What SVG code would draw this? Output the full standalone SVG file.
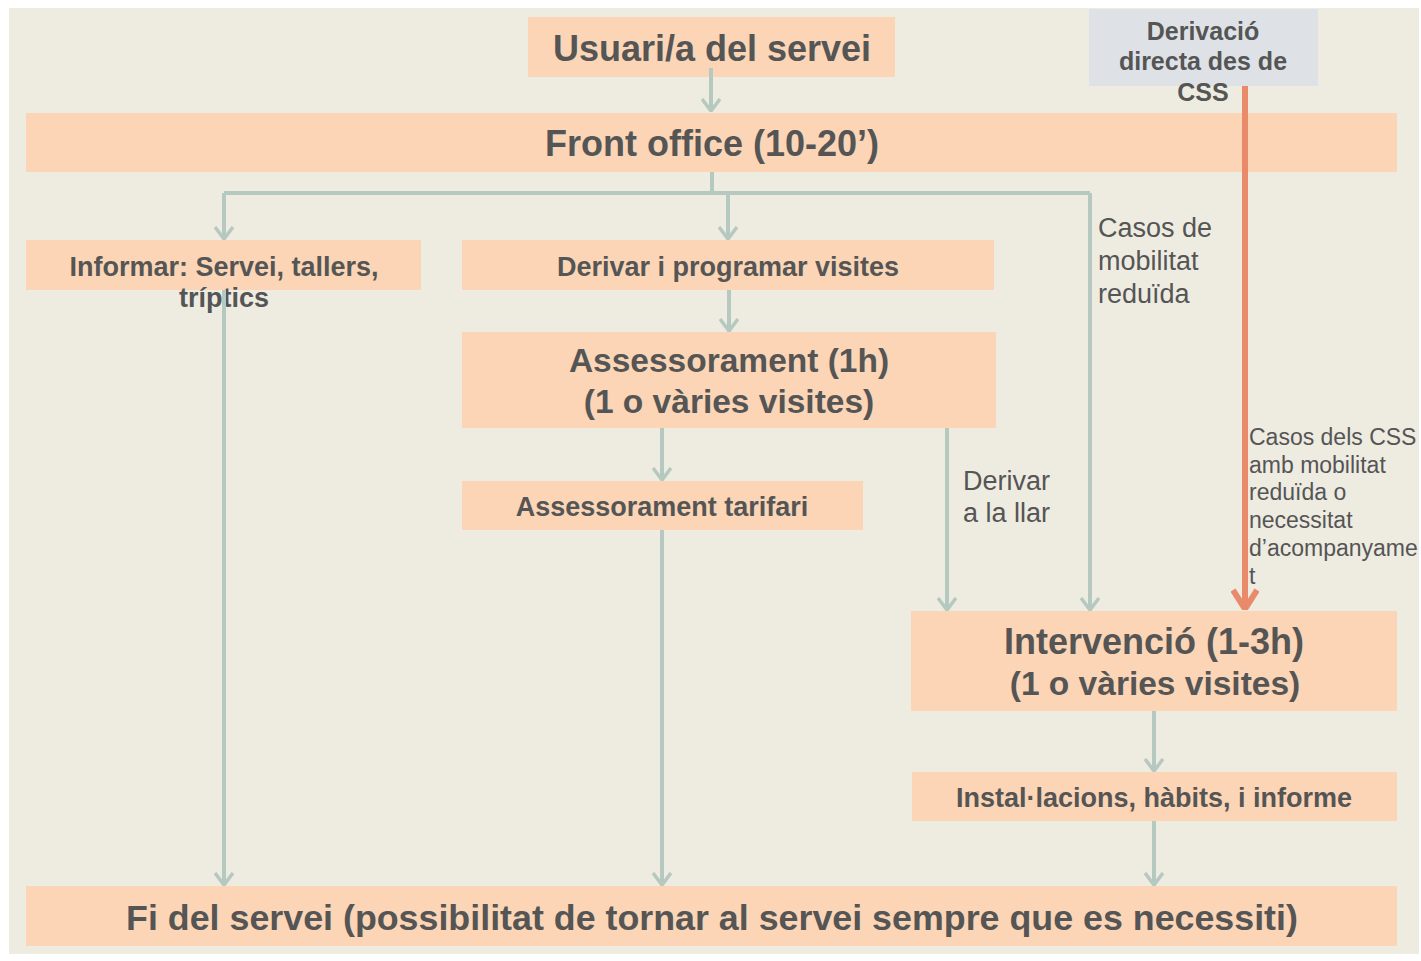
<svg xmlns="http://www.w3.org/2000/svg" width="1421" height="961" viewBox="0 0 1421 961">
<defs>
<style>
.box{fill:#FBD5B5}
.blue{fill:#DEE2E6}
.t{font-family:"Liberation Sans",Arial,sans-serif;fill:#555555;text-anchor:middle;font-weight:bold}
.lbl{font-family:"Liberation Sans",Arial,sans-serif;fill:#555555;font-size:27px}
.sm{font-family:"Liberation Sans",Arial,sans-serif;fill:#555555;font-size:23px}
.c{fill:none;stroke:#B5C9C1;stroke-width:4}
.r{fill:none;stroke:#E98A6B;stroke-width:6}
</style>
<marker id="a" viewBox="0 0 14 20" refX="13" refY="10" markerWidth="14" markerHeight="20" markerUnits="userSpaceOnUse" orient="auto">
<path d="M1,1 L13,10 L1,19" fill="none" stroke="#B5C9C1" stroke-width="3.5"/>
</marker>
<marker id="ar" viewBox="0 0 22 28" refX="21" refY="14" markerWidth="22" markerHeight="28" markerUnits="userSpaceOnUse" orient="auto">
<path d="M2,2 L21,14 L2,26" fill="none" stroke="#E98A6B" stroke-width="6"/>
</marker>
</defs>
<rect x="0" y="0" width="1421" height="961" fill="#FFFFFF"/>
<rect x="9" y="8" width="1410" height="946" fill="#EEEBE1"/>

<g id="usuari"><rect class="box" x="528" y="17" width="367" height="60"/><text class="t" x="712" y="61" font-size="36">Usuari/a del servei</text></g>
<g id="front"><rect class="box" x="26" y="113" width="1371" height="59"/><text class="t" x="712" y="156" font-size="36">Front office (10-20’)</text></g>
<g id="derivacio"><rect class="blue" x="1089" y="9" width="229" height="77"/><text class="t" x="1203" y="40" font-size="25">Derivació</text><text class="t" x="1203" y="70" font-size="25">directa des de</text><text class="t" x="1203" y="101" font-size="25">CSS</text></g>
<g id="informar"><rect class="box" x="26" y="240" width="395" height="50"/><text class="t" x="224" y="276" font-size="27">Informar: Servei, tallers,</text><text class="t" x="224" y="307" font-size="27">tríptics</text></g>
<g id="derivar"><rect class="box" x="462" y="240" width="532" height="50"/><text class="t" x="728" y="276" font-size="27">Derivar i programar visites</text></g>
<g id="assessorament"><rect class="box" x="462" y="332" width="534" height="96"/><text class="t" x="729" y="372" font-size="33.5">Assessorament (1h)</text><text class="t" x="729" y="413" font-size="33.5">(1 o vàries visites)</text></g>
<g id="tarifari"><rect class="box" x="462" y="481" width="401" height="49"/><text class="t" x="662" y="516" font-size="27">Assessorament tarifari</text></g>
<g id="intervencio"><rect class="box" x="911" y="611" width="486" height="100"/><text class="t" x="1154" y="654" font-size="36">Intervenció (1-3h)</text><text class="t" x="1155" y="695" font-size="33.5">(1 o vàries visites)</text></g>
<g id="installacions"><rect class="box" x="912" y="772" width="485" height="49"/><text class="t" x="1154" y="807" font-size="27">Instal·lacions, hàbits, i informe</text></g>
<g id="fi"><rect class="box" x="26" y="886" width="1371" height="60"/><text class="t" x="712" y="930" font-size="35.8">Fi del servei (possibilitat de tornar al servei sempre que es necessiti)</text></g>

<g id="connectors">
<path class="c" d="M711,68 V111" marker-end="url(#a)"/>
<path class="c" d="M712,172 V193"/>
<path class="c" d="M224,193 H1090"/>
<path class="c" d="M224,193 V239" marker-end="url(#a)"/>
<path class="c" d="M728,193 V239" marker-end="url(#a)"/>
<path class="c" d="M1090,193 V610" marker-end="url(#a)"/>
<path class="c" d="M729,290 V331" marker-end="url(#a)"/>
<path class="c" d="M224,290 V885" marker-end="url(#a)"/>
<path class="c" d="M662,428 V480" marker-end="url(#a)"/>
<path class="c" d="M662,530 V885" marker-end="url(#a)"/>
<path class="c" d="M947,428 V610" marker-end="url(#a)"/>
<path class="c" d="M1154,711 V771" marker-end="url(#a)"/>
<path class="c" d="M1154,821 V885" marker-end="url(#a)"/>
<path class="r" d="M1245,86 V609" marker-end="url(#ar)"/>
<text class="lbl" x="1098" y="237">Casos de</text>
<text class="lbl" x="1098" y="270">mobilitat</text>
<text class="lbl" x="1098" y="303">reduïda</text>
<text class="lbl" x="963" y="490">Derivar</text>
<text class="lbl" x="963" y="522">a la llar</text>
<text class="sm" x="1249" y="445">Casos dels CSS</text>
<text class="sm" x="1249" y="473">amb mobilitat</text>
<text class="sm" x="1249" y="500">reduïda o</text>
<text class="sm" x="1249" y="528">necessitat</text>
<text class="sm" x="1249" y="556">d’acompanyame</text>
<text class="sm" x="1249" y="584">t</text>
</g>
</svg>
